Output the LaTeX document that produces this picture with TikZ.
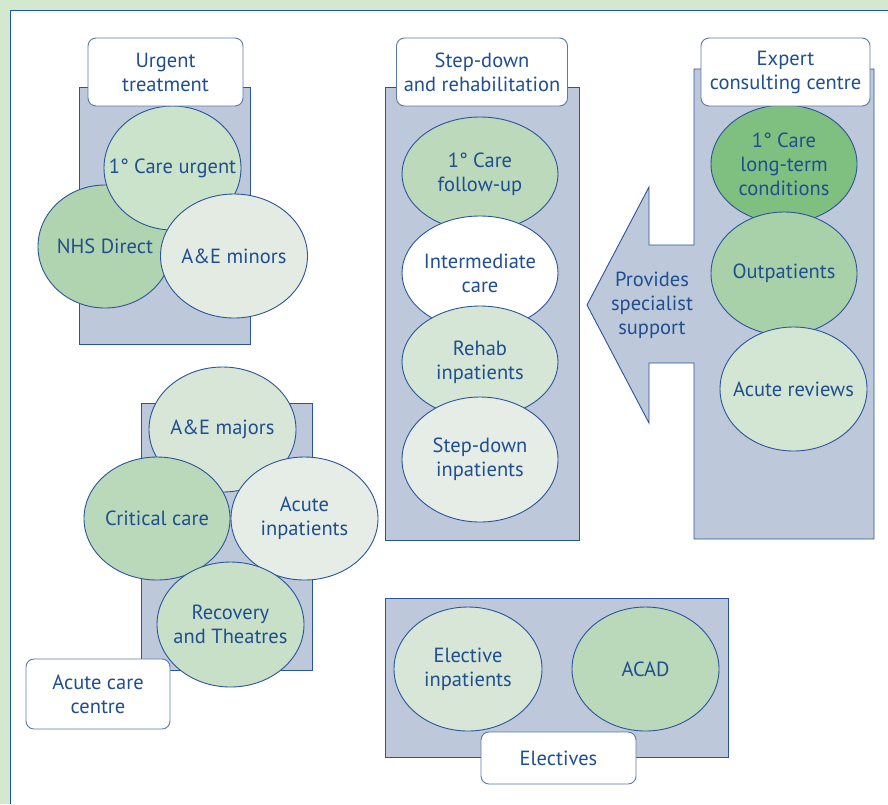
\documentclass[tikz,border=0pt]{standalone}
\usepackage{fontspec}
\setmainfont{PT Sans}
\usetikzlibrary{shapes.geometric}
\definecolor{bandgreen}{HTML}{D3E8CF}
\definecolor{framebl}{HTML}{1A56A8}
\definecolor{panel}{HTML}{BDC8DB}
\definecolor{edge}{HTML}{2A5599}
\definecolor{labedge}{HTML}{5A78A8}
\definecolor{txt}{HTML}{1F4F8F}
\definecolor{gA}{HTML}{CBE3CB}
\definecolor{gB}{HTML}{B0D3B0}
\definecolor{gC}{HTML}{E3EBE3}
\definecolor{gD}{HTML}{D8E6D8}
\definecolor{gE}{HTML}{BAD8BA}
\definecolor{gF}{HTML}{E6ECE6}
\definecolor{gG}{HTML}{C8E0C8}
\definecolor{gH}{HTML}{BCD9BC}
\definecolor{gI}{HTML}{D6E6D6}
\definecolor{gJ}{HTML}{7FBF7F}
\definecolor{gK}{HTML}{A9D1A9}
\definecolor{gL}{HTML}{D3E6D3}
\tikzset{
  ell/.style={ellipse, draw=edge, line width=0.9pt, inner xsep=-50pt, inner ysep=-40pt,
    align=center, text=txt, font=\fontsize{20.5}{24}\selectfont},
  panelbox/.style={fill=panel, draw=edge, line width=0.9pt},
  labbox/.style={rectangle, rounded corners=8pt, fill=white, draw=labedge, line width=0.9pt,
    align=center, text=txt, font=\fontsize{20.5}{24}\selectfont, inner sep=0pt},
  plain/.style={align=center, text=txt, font=\fontsize{20.5}{24}\selectfont, inner sep=0pt}
}
\begin{document}
\begin{tikzpicture}[x=1pt,y=-1pt]
\useasboundingbox (0,0) rectangle (888,804);
\fill[bandgreen] (0,0) rectangle (888,804);
\fill[white] (10.5,10.5) rectangle (888,804);
\draw[framebl, line width=1.6pt] (10.5,804) -- (10.5,10.5) -- (888,10.5);

% Urgent treatment
\draw[panelbox] (79,87) rectangle (250.5,344);
\node[ell, fill=gB, minimum width=134pt, minimum height=123pt] (nhs) at (105,246.5) {NHS Direct};
\node[ell, fill=gA, minimum width=137pt, minimum height=124pt] (pcu) at (172.5,168) {1° Care urgent};
\node[ell, fill=gC, minimum width=147pt, minimum height=124pt] (aem) at (234,256) {A\&E minors};
\node[labbox, minimum width=155pt, minimum height=68pt] (lurg) at (165.5,72) {Urgent\\treatment};

% Acute care centre
\draw[panelbox] (141,403) rectangle (312,670);
\node[ell, fill=gD, minimum width=147pt, minimum height=125pt] (aemaj) at (222.5,429.5) {A\&E majors};
\node[ell, fill=gE, minimum width=146pt, minimum height=123pt] (crit) at (157,518.5) {Critical care};
\node[ell, fill=gF, minimum width=147pt, minimum height=123pt] (acin) at (304.5,518.5) {Acute\\inpatients};
\node[ell, fill=gG, minimum width=147pt, minimum height=125pt] (recov) at (230.5,624.5) {Recovery\\and Theatres};
\node[labbox, minimum width=144pt, minimum height=70pt] (lacute) at (98,694) {Acute care\\centre};

% Step-down and rehabilitation
\draw[panelbox] (385.5,87) rectangle (579,540);
\node[ell, fill=gH, minimum width=156pt, minimum height=114pt] (pcf) at (480,174) {1° Care\\follow-up};
\node[ell, fill=white, minimum width=156pt, minimum height=114pt] (inter) at (480,273) {Intermediate\\care};
\node[ell, fill=gI, minimum width=156pt, minimum height=112pt] (rehab) at (480,362) {Rehab\\inpatients};
\node[ell, fill=gF, minimum width=156pt, minimum height=125pt] (sdin) at (480,459.5) {Step-down\\inpatients};
\node[labbox, minimum width=171pt, minimum height=68pt] (lstep) at (482,72) {Step-down\\and rehabilitation};

% Expert consulting centre
\draw[panelbox] (694,69) -- (874,69) -- (874,539) -- (694,539) -- (694,363) -- (649,363)
  -- (649,423) -- (587,305) -- (649,187) -- (649,245) -- (694,245) -- cycle;
\node[plain] (prov) at (652,305) {Provides\\specialist\\support};
\node[ell, fill=gJ, minimum width=146pt, minimum height=118pt] (ltc) at (784,164) {1° Care\\long-term\\conditions};
\node[ell, fill=gK, minimum width=146pt, minimum height=123pt] (outp) at (784,273.5) {Outpatients};
\node[ell, fill=gL, minimum width=147pt, minimum height=124pt] (acrev) at (793.5,389) {Acute reviews};
\node[labbox, minimum width=169pt, minimum height=68pt] (lexp) at (785.5,72) {Expert\\consulting centre};

% Electives
\draw[panelbox] (385.5,598) rectangle (728,757);
\node[ell, fill=gD, minimum width=148pt, minimum height=124pt] (elin) at (468,669) {Elective\\inpatients};
\node[ell, fill=gE, minimum width=147pt, minimum height=124pt] (acad) at (645.5,669) {ACAD};
\node[labbox, minimum width=155pt, minimum height=52pt] (lelec) at (558.5,758) {Electives};
\end{tikzpicture}
\end{document}
